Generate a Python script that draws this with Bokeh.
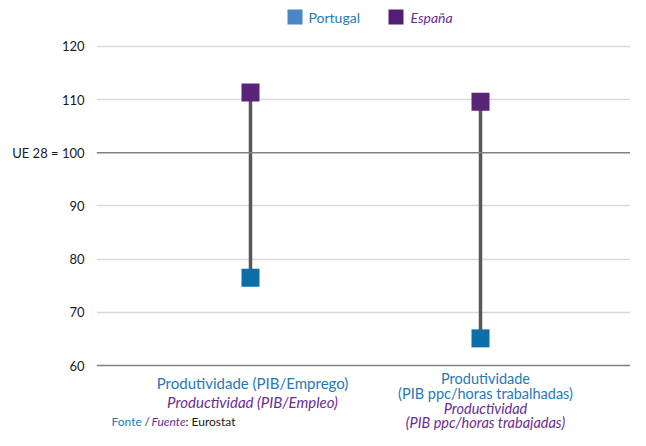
from bokeh.plotting import figure
from bokeh.models import Range1d, FixedTicker, Span
from bokeh.core.properties import value
from bokeh.embed import file_html
from bokeh.resources import INLINE

# ---- data ----
categories_pt = ["Produtividade (PIB/Emprego)", "Produtividade\n(PIB ppc/horas trabalhadas)"]
categories_es = ["Productividad (PIB/Empleo)", "Productividad\n(PIB ppc/horas trabajadas)"]
cat_pos = [1, 2]
portugal = [76.5, 65.1]
espana = [111.3, 109.6]
y_ticks = [60, 70, 80, 90, 100, 110, 120]
y_labels = {100: "UE 28 = 100"}
series_names = ["Portugal", "España"]
source_parts = ["Fonte", "/", "Fuente", ": Eurostat"]

# ---- layout helpers (picture pixel -> data) ----
W, H = 630, 430
LEFT = 96
PX_X = 230.0          # pixels per category unit
PX_Y = 5.32           # pixels per y unit
xmin = 1 - (250 - LEFT) / PX_X
xmax = xmin + (W - LEFT) / PX_X
ymin = 60 - (H - 365) / PX_Y
ymax = ymin + H / PX_Y

def X(px):
    return xmin + (px - LEFT) / PX_X

def Y(py):
    return ymin + (H - py) / PX_Y

FONT = value("Lato")
BLUE_TXT = "#2679b5"
PURPLE_TXT = "#6a2d8f"

p = figure(width=W, height=H, output_backend="svg", toolbar_location=None,
           x_range=Range1d(xmin, xmax), y_range=Range1d(ymin, ymax),
           min_border_left=LEFT, min_border_right=0, min_border_top=0, min_border_bottom=0)
p.outline_line_color = None
p.xaxis.visible = False
p.xgrid.visible = False

ya = p.yaxis[0]
ya.ticker = FixedTicker(ticks=y_ticks)
ya.major_label_overrides = y_labels
ya.axis_line_color = None
ya.major_tick_line_color = None
ya.minor_tick_line_color = None
ya.major_label_standoff = 6
ya.major_label_text_font = "Lato"
ya.major_label_text_font_size = "13px"
ya.major_label_text_color = "#1a1a1a"

p.ygrid.ticker = FixedTicker(ticks=[t for t in y_ticks if t not in (60, 100)])
p.ygrid.grid_line_color = "#d9d9d9"
p.ygrid.grid_line_width = 1.5
for loc in (60, 100):
    p.add_layout(Span(location=loc, dimension="width", line_color="#808080", line_width=1.5))

# connectors and markers
p.segment(x0=cat_pos, y0=portugal, x1=cat_pos, y1=espana, line_color="#595959", line_width=3.5)
p.scatter(x=cat_pos, y=portugal, marker="square", size=18, fill_color="#0b6ea8", line_color=None)
p.scatter(x=cat_pos, y=espana, marker="square", size=18, fill_color="#5a2479", line_color=None)

# legend (manual, to allow different text styles)
p.scatter(x=[X(294.5), X(395.5)], y=[Y(16.5), Y(16.5)], marker="square", size=15,
          fill_color=["#4a86c5", "#541d75"], line_color=None)
p.text(x=[X(308)], y=[Y(16.5)], text=[series_names[0]], text_font=FONT, text_font_size="14px",
       text_color=BLUE_TXT, text_align="left", text_baseline="middle")
p.text(x=[X(410)], y=[Y(16.5)], text=[series_names[1]], text_font=FONT, text_font_size="14px",
       text_font_style="italic", text_color=PURPLE_TXT, text_align="left", text_baseline="middle")

# category labels
label_cx = [252, 485]
label_rows = [[382, 401], [378, 393, 408, 422]]
label_size = ["15px", "14.5px"]
for i in range(len(cat_pos)):
    pt_lines = categories_pt[i].split("\n")
    es_lines = categories_es[i].split("\n")
    rows = label_rows[i]
    k = 0
    for ln in pt_lines:
        p.text(x=[X(label_cx[i])], y=[Y(rows[k])], text=[ln], text_font=FONT, text_font_size=label_size[i],
               text_color=BLUE_TXT, text_align="center", text_baseline="middle")
        k += 1
    for ln in es_lines:
        p.text(x=[X(label_cx[i])], y=[Y(rows[k])], text=[ln], text_font=FONT, text_font_size=label_size[i],
               text_font_style="italic", text_color=PURPLE_TXT, text_align="center", text_baseline="middle")
        k += 1

# source line
src_x = [111, 144, 151, 185]
src_col = [BLUE_TXT, "#333333", PURPLE_TXT, "#1a1a1a"]
src_style = ["normal", "normal", "italic", "normal"]
for s, sx, c, st in zip(source_parts, src_x, src_col, src_style):
    p.text(x=[X(sx)], y=[Y(421)], text=[s], text_font=FONT, text_font_size="12px",
           text_font_style=st, text_color=c, text_align="left", text_baseline="middle")

open("out.html", "w").write(file_html(p, INLINE))
